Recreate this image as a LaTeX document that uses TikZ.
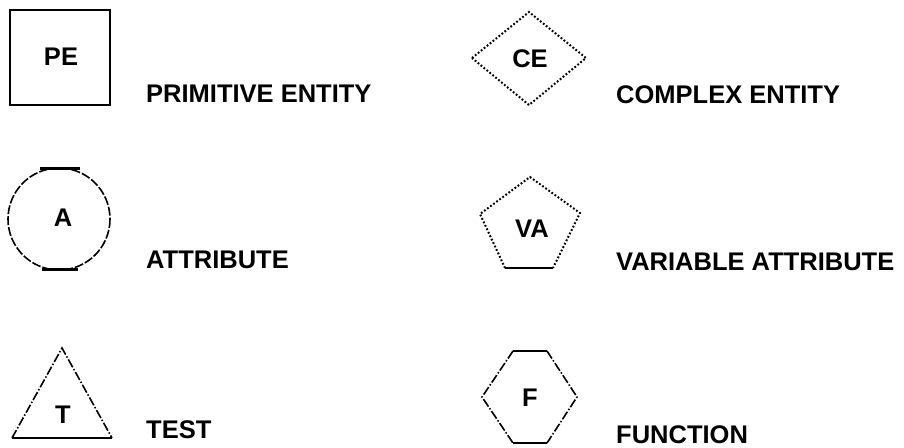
\documentclass[tikz,border=0pt]{standalone}
\usepackage{fontspec}
\setmainfont{Liberation Sans}

\begin{document}
\begin{tikzpicture}[x=1pt,y=-1pt, every node/.style={font=\fontsize{25.5}{30}\selectfont\bfseries}]
        \tikzstyle{every node}+=[inner sep=0pt]
        \tikzstyle{solidedge}=[line width=2.4pt]
        \tikzstyle{dotedge}=[line width=2pt, dash pattern=on 1.8pt off 2pt]
        \tikzstyle{dashedge}=[line width=1.6pt, dash pattern=on 9pt off 2pt]
        \tikzstyle{dashdotedge}=[line width=1.6pt, dash pattern=on 9pt off 2pt on 1.5pt off 2pt]
        \useasboundingbox (0,0) rectangle (904,447);
        % primitive entity
        \draw [solidedge] (10,10) rectangle (110,105);
        \draw (61,65) node [anchor=base] (pe) {PE};
        \draw (146,102) node [anchor=base west] (pelabel) {PRIMITIVE ENTITY};
        % complex entity
        \draw [dotedge] (472,58) -- (529,12) -- (586,58) -- (529,105) -- cycle;
        \draw (530,67) node [anchor=base] (ce) {CE};
        \draw (616,103) node [anchor=base west] (celabel) {COMPLEX ENTITY};
        % attribute
        \draw [dashedge] (59,219) circle (51);
        \draw [solidedge] (40,168.5) -- (80,168.5);
        \draw [solidedge] (42,269.5) -- (78,269.5);
        \draw (63,226) node [anchor=base] (a) {A};
        \draw (146,268) node [anchor=base west] (alabel) {ATTRIBUTE};
        % variable attribute
        \draw [dotedge] (505,268) -- (480,214) -- (530,177) -- (580,213) -- (553,268);
        \draw [solidedge] (505,268) -- (553,268);
        \draw (532,237) node [anchor=base] (va) {VA};
        \draw (616,270) node [anchor=base west] (valabel) {VARIABLE ATTRIBUTE};
        % test
        \draw [dashdotedge] (12,438) -- (62,348) -- (112,438);
        \draw [solidedge] (12,438) -- (112,438);
        \draw (63,423) node [anchor=base] (t) {T};
        \draw (146,438) node [anchor=base west] (tlabel) {TEST};
        % function
        \draw [dashdotedge] (513,351) -- (482,397) -- (513,443);
        \draw [dashdotedge] (547,351) -- (577,397) -- (547,443);
        \draw [solidedge] (513,351) -- (547,351);
        \draw [solidedge] (513,443) -- (547,443);
        \draw (530,406) node [anchor=base] (f) {F};
        \draw (616,443) node [anchor=base west] (flabel) {FUNCTION};
\end{tikzpicture}
\end{document}
